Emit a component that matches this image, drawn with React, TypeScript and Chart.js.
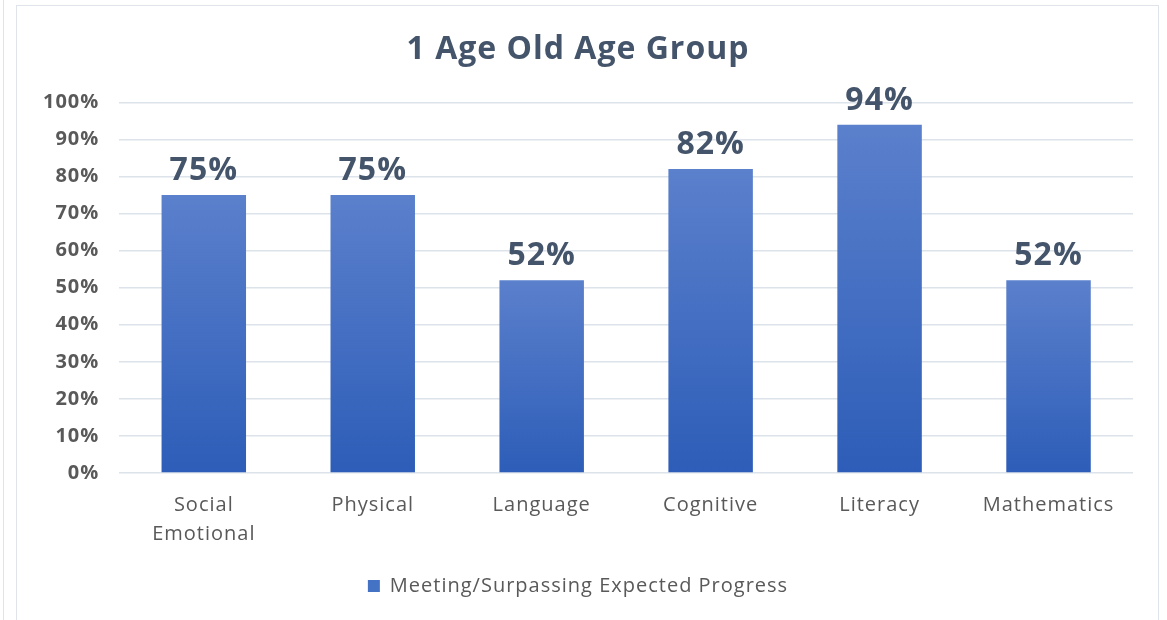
import React, { useEffect, useRef } from "react";
import { Chart, registerables } from "chart.js";

Chart.register(...registerables);

const categories: (string | string[])[] = [
  ["Social", "Emotional"],
  "Physical",
  "Language",
  "Cognitive",
  "Literacy",
  "Mathematics",
];
const seriesName = "Meeting/Surpassing Expected Progress";
const values: number[] = [75, 75, 52, 82, 94, 52];
const yTicks: number[] = [0, 10, 20, 30, 40, 50, 60, 70, 80, 90, 100];
const titleText = "1 Age Old Age Group";

const FONT = "'Open Sans', Lato, sans-serif";
const TEXT_DARK = "#44546a";
const TEXT_GREY = "#595959";
const TOP_COLOR = "#5b80cc";
const BOTTOM_COLOR = "#2d5db8";
const SPACING = "1px";

const spacingPlugin = {
  id: "spacing",
  beforeUpdate(chart: any) {
    chart.ctx.letterSpacing = SPACING;
  },
  beforeDraw(chart: any) {
    chart.ctx.letterSpacing = SPACING;
  },
};

const labelPlugin = {
  id: "barLabels",
  afterDatasetsDraw(chart: any) {
    const { ctx } = chart;
    const meta = chart.getDatasetMeta(0);
    ctx.save();
    ctx.letterSpacing = "1px";
    ctx.font = `bold 32px ${FONT}`;
    ctx.fillStyle = TEXT_DARK;
    ctx.textAlign = "center";
    ctx.textBaseline = "alphabetic";
    meta.data.forEach((el: any, i: number) => {
      ctx.fillText(values[i] + "%", el.x, el.y - 15);
    });
    ctx.restore();
  },
};

export default function App() {
  const ref = useRef<HTMLCanvasElement | null>(null);
  useEffect(() => {
    if (!ref.current) return;
    const chart = new Chart(ref.current, {
      type: "bar",
      data: {
        labels: categories,
        datasets: [
          {
            label: seriesName,
            data: values,
            backgroundColor: (c: any) => {
              const ch = c.chart;
              const ys = ch.scales?.y;
              if (!ch.chartArea || !ys || c.dataIndex === undefined) return BOTTOM_COLOR;
              const top = ys.getPixelForValue(values[c.dataIndex]);
              const base = ys.getPixelForValue(0);
              if (!isFinite(top) || !isFinite(base) || top === base) return BOTTOM_COLOR;
              const g = ch.ctx.createLinearGradient(0, top, 0, base);
              g.addColorStop(0, TOP_COLOR);
              g.addColorStop(1, BOTTOM_COLOR);
              return g;
            },
            borderWidth: 0,
            categoryPercentage: 1,
            barPercentage: 0.5,
          },
        ],
      },
      options: {
        responsive: false,
        animation: false,
        layout: { padding: { left: 6, right: 25, top: 0, bottom: 14 } },
        plugins: {
          title: {
            display: true,
            text: titleText,
            color: TEXT_DARK,
            font: { family: FONT, size: 32, weight: "bold" },
            padding: { top: 25, bottom: 33 },
          },
          legend: {
            display: true,
            position: "bottom",
            labels: {
              color: TEXT_GREY,
              font: { family: FONT, size: 20 },
              boxWidth: 12,
              boxHeight: 12,
              padding: 10,
              generateLabels: () => [
                {
                  text: seriesName,
                  fillStyle: "#4472c4",
                  strokeStyle: "#4472c4",
                  lineWidth: 0,
                  hidden: false,
                  datasetIndex: 0,
                  fontColor: TEXT_GREY,
                },
              ],
            },
          },
          tooltip: { enabled: false },
        },
        scales: {
          x: {
            grid: { display: false },
            border: { display: false },
            afterFit: (s: any) => {
              s.height += 7;
            },
            ticks: {
              color: TEXT_GREY,
              font: { family: FONT, size: 20, lineHeight: 1.45 },
              padding: 10,
              maxRotation: 0,
              autoSkip: false,
            },
          },
          y: {
            min: 0,
            max: 100,
            afterBuildTicks: (s: any) => {
              s.ticks = yTicks.map((v) => ({ value: v }));
            },
            grid: { color: "#dde3ea", lineWidth: 1.5, drawTicks: false },
            border: { display: false },
            ticks: {
              color: TEXT_GREY,
              font: { family: FONT, size: 20, weight: "bold" },
              padding: 20,
              callback: (v: any) => v + "%",
            },
          },
        },
      },
      plugins: [spacingPlugin, labelPlugin],
    });
    return () => chart.destroy();
  }, []);

  return (
    <div style={{ position: "fixed", left: 0, top: 0, width: 1167, height: 620, background: "#fff", overflow: "hidden" }}>
      <div style={{ position: "absolute", left: 3, top: 0, width: 1, height: 620, background: "#dfe4ea" }} />
      <div
        style={{
          position: "absolute",
          left: 16,
          top: 5,
          width: 1143,
          height: 640,
          border: "1px solid #dfe4ea",
          boxSizing: "border-box",
        }}
      />
      <canvas
        ref={ref}
        width={1141}
        height={614}
        style={{ position: "absolute", left: 17, top: 6 }}
      />
    </div>
  );
}
